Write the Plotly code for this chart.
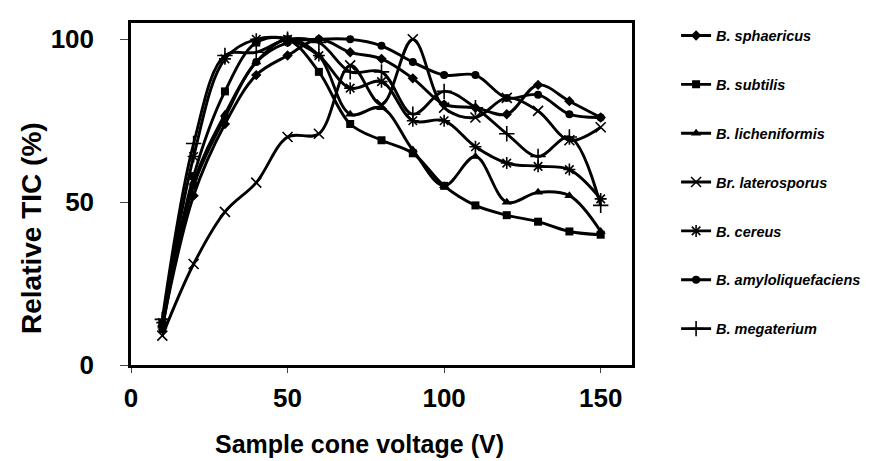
import plotly.graph_objects as go

voltage = [10, 20, 30, 40, 50, 60, 70, 80, 90, 100, 110, 120, 130, 140, 150]

sphaericus = [12, 52, 74, 89, 95, 100, 96, 94, 88, 80, 79, 77, 86, 81, 76]
subtilis = [13, 58, 84, 99, 100, 90, 74, 69, 65, 55, 49, 46, 44, 41, 40]
licheniformis = [12, 56, 77, 93, 100, 95, 77, 79, 66, 55, 64, 50, 53, 52, 41]
laterosporus = [9, 31, 47, 56, 70, 71, 92, 80, 100, 79, 76, 82, 78, 69, 73]
cereus = [13, 64, 94, 100, 100, 95, 85, 87, 75, 75, 67, 62, 61, 60, 51]
amyloliquefaciens = [11, 55, 76, 93, 99, 100, 100, 98, 93, 89, 89, 82, 83, 77, 76]
megaterium = [14, 68, 95, 96, 100, 99, 90, 90, 77, 84, 79, 71, 64, 70, 49]

series_names = ["B. sphaericus", "B. subtilis", "B. licheniformis", "Br. laterosporus",
                "B. cereus", "B. amyloliquefaciens", "B. megaterium"]
series_values = [sphaericus, subtilis, licheniformis, laterosporus, cereus,
                 amyloliquefaciens, megaterium]
x_ticks = [0, 50, 100, 150]
y_ticks = [0, 50, 100]
x_title = "Sample cone voltage (V)"
y_title = "Relative TIC (%)"

marker_styles = [
    dict(symbol="diamond", size=8),
    dict(symbol="square", size=8),
    dict(symbol="triangle-up", size=9),
    dict(symbol="x-thin-open", size=10, line=dict(width=1.6, color="black")),
    dict(symbol="asterisk-open", size=10, line=dict(width=1.6, color="black")),
    dict(symbol="circle", size=8),
    dict(symbol="cross-thin-open", size=11, line=dict(width=1.6, color="black")),
]

fig = go.Figure()
for i, (name, vals) in enumerate(zip(series_names, series_values)):
    m = dict(color="black")
    m.update(marker_styles[i])
    fig.add_trace(go.Scatter(
        x=voltage, y=vals, name=f"<b><i>{name}</i></b>",
        mode="lines+markers",
        line=dict(color="black", width=2.9, shape="spline", smoothing=1.0),
        marker=m, legendgroup=f"g{i}",
    ))

font_family = "Liberation Sans, Arial, sans-serif"
fig.update_layout(
    width=870, height=461,
    margin=dict(l=123, r=236, t=13, b=104),
    paper_bgcolor="white", plot_bgcolor="white",
    font=dict(family=font_family, color="black"),
    showlegend=True,
    legend=dict(x=1.088, xanchor="left", y=1.01, yanchor="top", maxheight=460,
                font=dict(size=14.5, family=font_family, color="black"),
                tracegroupgap=27, bgcolor="rgba(0,0,0,0)"),
    xaxis=dict(range=[0, 160], tickvals=x_ticks, ticktext=[f"<b>{t}</b>" for t in x_ticks],
               tickfont=dict(size=26), ticks="outside", ticklen=5, tickwidth=1.2,
               showline=True, mirror=True, linewidth=2.5, linecolor="black",
               showgrid=False, zeroline=False, ticklabelstandoff=3),
    yaxis=dict(range=[0, 105], tickvals=y_ticks, ticktext=[f"<b>{t}</b>" for t in y_ticks],
               tickfont=dict(size=26), ticks="outside", ticklen=8, tickwidth=1.2,
               showline=True, mirror=True, linewidth=2.5, linecolor="black",
               showgrid=False, zeroline=False, ticklabelstandoff=21),
    annotations=[
        dict(text=f"<b>{x_title}</b>", xref="paper", yref="paper", x=0.456, y=-0.232,
             xanchor="center", yanchor="middle", showarrow=False, font=dict(size=25)),
        dict(text=f"<b>{y_title}</b>", xref="paper", yref="paper", x=-0.200, y=0.40,
             xanchor="center", yanchor="middle", showarrow=False, textangle=-90,
             font=dict(size=28)),
    ],
)

fig.write_html("out.html")
